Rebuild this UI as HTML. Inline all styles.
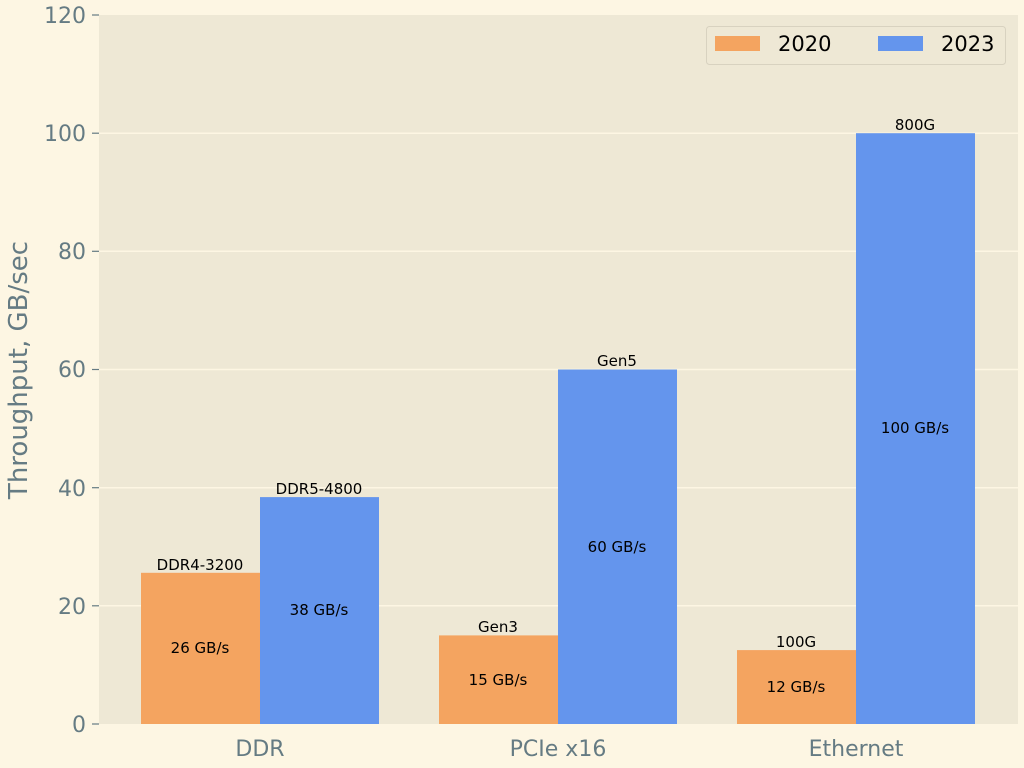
<!DOCTYPE html>
<html><head><style>html,body{margin:0;background:#fdf6e3;overflow:hidden}svg{display:block}</style></head><body>
<svg width="1024" height="768" xmlns="http://www.w3.org/2000/svg" font-family="DejaVu Sans, Liberation Sans, sans-serif">
<rect width="1024" height="768" fill="#fdf6e3"/>
<rect x="99" y="15" width="919" height="709" fill="#eee8d5"/>
<g stroke="#fdf6e3" stroke-width="1.5">
<line x1="99" x2="1018" y1="133.2" y2="133.2"/><line x1="99" x2="1018" y1="251.3" y2="251.3"/>
<line x1="99" x2="1018" y1="369.5" y2="369.5"/><line x1="99" x2="1018" y1="487.7" y2="487.7"/>
<line x1="99" x2="1018" y1="605.8" y2="605.8"/>
</g>
<g stroke="#657b83" stroke-width="1.2">
<line x1="92" x2="99" y1="15" y2="15"/><line x1="92" x2="99" y1="133.2" y2="133.2"/><line x1="92" x2="99" y1="251.3" y2="251.3"/><line x1="92" x2="99" y1="369.5" y2="369.5"/><line x1="92" x2="99" y1="487.7" y2="487.7"/><line x1="92" x2="99" y1="605.8" y2="605.8"/><line x1="92" x2="99" y1="724" y2="724"/>
</g>
<g fill="#657b83" font-size="22" text-anchor="end">
<text x="86" y="23">120</text><text x="86" y="141">100</text><text x="86" y="259">80</text><text x="86" y="377">60</text><text x="86" y="496">40</text><text x="86" y="614">20</text><text x="86" y="732">0</text>
</g>
<g fill="#657b83" font-size="22" text-anchor="middle">
<text x="260" y="756">DDR</text><text x="558" y="756">PCIe x16</text><text x="856" y="756">Ethernet</text>
<text transform="translate(27,370) rotate(-90)" font-size="26">Throughput, GB/sec</text>
</g>
<g fill="#f4a460">
<rect x="141" y="572.8" width="119" height="151.2"/><rect x="439" y="635.4" width="119" height="88.6"/><rect x="737" y="650.1" width="119" height="73.9"/>
</g>
<g fill="#6495ed">
<rect x="260" y="497.1" width="119" height="226.9"/><rect x="558" y="369.5" width="119" height="354.5"/><rect x="856" y="133.2" width="119" height="590.8"/>
</g>
<g font-size="15" text-anchor="middle" fill="#000">
<text x="200" y="570">DDR4-3200</text><text x="319" y="494">DDR5-4800</text>
<text x="498" y="632">Gen3</text><text x="617" y="366">Gen5</text>
<text x="796" y="647">100G</text><text x="915" y="130">800G</text>
<text x="200" y="653">26 GB/s</text><text x="319" y="615">38 GB/s</text>
<text x="498" y="685">15 GB/s</text><text x="617" y="552">60 GB/s</text>
<text x="796" y="692">12 GB/s</text><text x="915" y="433">100 GB/s</text>
</g>
<rect x="706.5" y="26.5" width="299" height="38" rx="3" fill="#eee8d5" stroke="#d8d2c0"/>
<rect x="715" y="36" width="45" height="15" fill="#f4a460"/>
<rect x="878" y="36" width="45" height="15" fill="#6495ed"/>
<g font-size="21" fill="#000"><text x="778" y="51">2020</text><text x="941" y="51">2023</text></g>
</svg>
</body></html>
